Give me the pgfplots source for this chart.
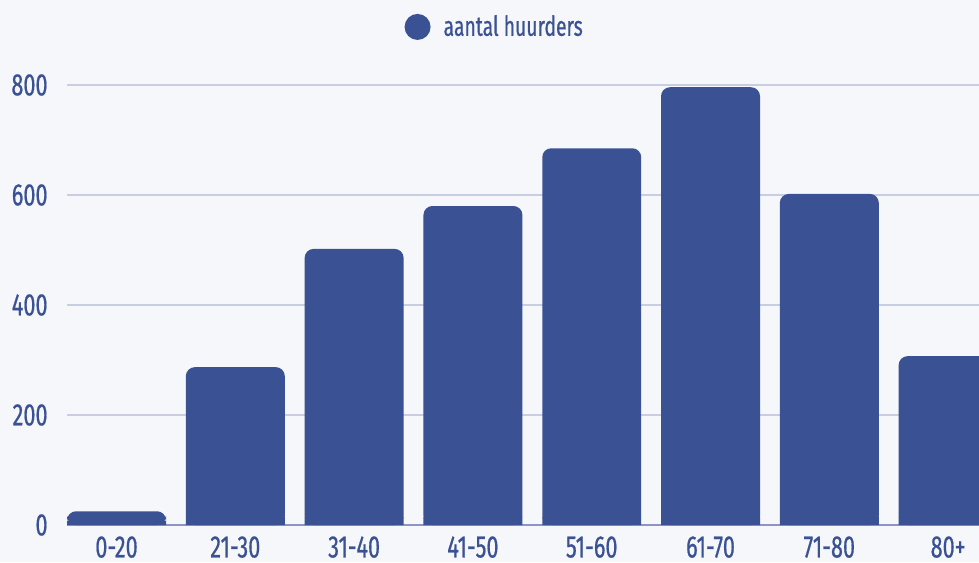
\documentclass[border=0pt]{standalone}
\usepackage{fontspec}
\setmainfont[FakeStretch=0.7,FakeBold=0.6]{Fira Sans}
\usepackage{pgfplots}
\pgfplotsset{compat=1.18}
\definecolor{barblue}{HTML}{3A5193}
\definecolor{bgc}{HTML}{F5F7FA}
\definecolor{gridc}{HTML}{C8CDE2}
\definecolor{basec}{HTML}{8C95C4}
\begin{document}
\begin{tikzpicture}
\fill[bgc] (-33.5pt,-18.5pt) rectangle (456pt,262.5pt);
\path[use as bounding box] (-33.5pt,-18.5pt) rectangle (456pt,262.5pt);
\begin{axis}[
  at={(0pt,0pt)}, anchor=south west,
  scale only axis, width=456pt, height=220pt,
  xmin=-0.417, xmax=7.26, ymin=0, ymax=800,
  axis line style={draw=none},
  major tick length=0pt,
  ytick={200,400,600,800},
  extra y ticks={0},
  extra y tick style={grid style={basec, line width=1pt}},
  ymajorgrids,
  grid style={gridc, line width=1pt},
  xtick={0,...,7},
  xticklabels={0-20,21-30,31-40,41-50,51-60,61-70,71-80,80+},
  tick label style={font=\fontsize{15.5}{15.5}\selectfont, text=barblue, inner sep=0pt},
  yticklabel style={anchor=east, xshift=-9.5pt},
  xticklabel style={anchor=north, yshift=-5.5pt},
  /pgf/number format/assume math mode=true,
  legend style={at={(0.47,1.132)}, anchor=center, draw=none, fill=none,
    font=\fontsize{13.8}{13.8}\selectfont, text=barblue},
  legend image code/.code={\fill[barblue] (0pt,0pt) circle (6.5pt); \path (11pt,0pt);},
]
\addplot[ybar, bar shift=0pt, bar width=0.833, fill=barblue, draw=none, rounded corners=4.5pt]
  coordinates {(0,25) (1,287) (2,502) (3,580) (4,685) (5,796) (6,602) (7,307)};
\addlegendentry{aantal huurders}
\addplot[ybar, bar shift=0pt, bar width=0.833, fill=barblue, draw=none, forget plot]
  coordinates {(0,8) (1,15) (2,15) (3,15) (4,15) (5,15) (6,15) (7,15)};
\end{axis}
\end{tikzpicture}
\end{document}
